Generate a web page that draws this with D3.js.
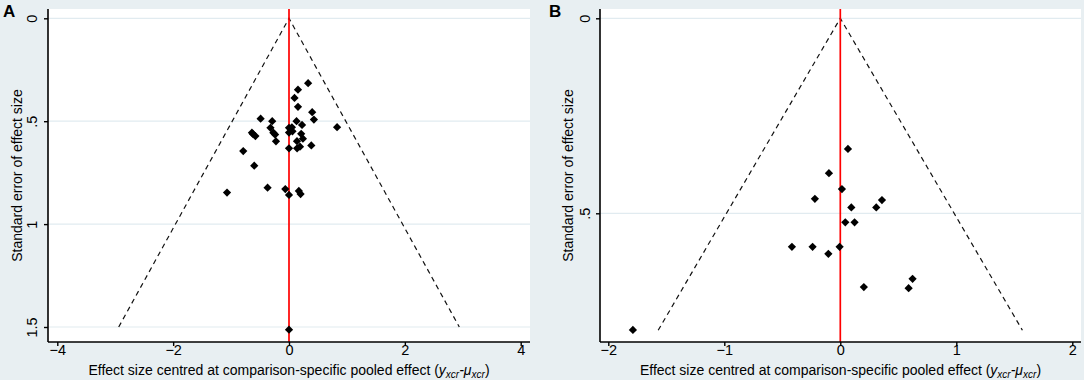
<!DOCTYPE html>
<html>
<head>
<meta charset="utf-8">
<script src="https://cdn.jsdelivr.net/npm/d3@7"></script>
<style>
  body { margin: 0; background: #e8eff2; }
  svg { display: block; }
</style>
</head>
<body>
<div id="chart"></div>
<script>
// ── Data ─────────────────────────────────────
// Panel A: centred effect size / standard error
const aEffect = [0.33, 0.155, 0.095, 0.155, 0.40, 0.43, 0.13, -0.49, -0.29, 0.83,
                 0.225, -0.32, 0.0, 0.05, 0.0, -0.64, -0.58, -0.27, -0.24, 0.21,
                 0.24, -0.225, 0.138, 0.19, 0.14, 0.0, 0.385, -0.79, -0.60, -1.07,
                 -0.37, -0.064, 0.0, 0.17, 0.20, 0.0, -0.62, 0.06];
const aSE     = [0.315, 0.347, 0.387, 0.430, 0.456, 0.492, 0.500, 0.488, 0.500, 0.529,
                 0.518, 0.532, 0.532, 0.530, 0.555, 0.556, 0.572, 0.556, 0.565, 0.561,
                 0.585, 0.598, 0.597, 0.624, 0.632, 0.632, 0.618, 0.645, 0.716, 0.847,
                 0.823, 0.830, 0.858, 0.839, 0.854, 1.513, 0.563, 0.549];
// Panel B
const bEffect = [-1.788, -0.417, -0.239, -0.103, -0.219, -0.006, 0.043, 0.123, 0.095,
                 0.014, 0.31, 0.359, 0.203, 0.589, 0.623, 0.066, -0.098];
const bSE     = [0.799, 0.586, 0.586, 0.604, 0.463, 0.586, 0.523, 0.523, 0.485,
                 0.438, 0.485, 0.466, 0.689, 0.692, 0.668, 0.335, 0.397];

// Pseudo 95% limits (apex and ends)
const aFunnel = [[-2.94, 1.5], [0, 0], [2.94, 1.5]];
const bFunnel = [[-1.57, 0.8], [0, 0], [1.57, 0.8]];

const aXTicks = [-4, -2, 0, 2, 4];
const aYTicks = [0, 0.5, 1, 1.5];
const bXTicks = [-2, -1, 0, 1, 2];
const bYTicks = [0, 0.5];

const FONT = "Arial, 'Liberation Sans', sans-serif";

const svg = d3.select("#chart").append("svg")
  .attr("width", 1084).attr("height", 380);

function fmtTick(d) {
  return String(d).replace(/^0\./, ".").replace(/^-0\./, "-.");
}

function drawPanel(cfg) {
  const x = d3.scaleLinear().domain(cfg.xDom).range(cfg.xRange);
  const y = d3.scaleLinear().domain(cfg.yDom).range(cfg.yRange);
  const p = cfg.plot; // plot region box
  const g = svg.append("g");

  // plot region
  g.append("rect").attr("x", p.l).attr("y", p.t)
    .attr("width", p.r - p.l).attr("height", p.b - p.t).attr("fill", "#fff");

  // grid
  g.selectAll(".grid").data(cfg.yTicks).join("line")
    .attr("x1", p.l).attr("x2", p.r)
    .attr("y1", d => y(d)).attr("y2", d => y(d))
    .attr("stroke", "#e1ebf0").attr("stroke-width", 1.2);

  // funnel
  g.append("path").datum(cfg.funnel)
    .attr("d", d3.line().x(d => x(d[0])).y(d => y(d[1])))
    .attr("fill", "none").attr("stroke", "#111")
    .attr("stroke-width", 1.2).attr("stroke-dasharray", "5,4");

  // red line at zero
  g.append("line").attr("x1", x(0)).attr("x2", x(0))
    .attr("y1", p.t).attr("y2", p.b)
    .attr("stroke", "#ff0000").attr("stroke-width", 1.7);

  // points
  const sym = d3.symbol(d3.symbolSquare, 34);
  g.selectAll(".pt").data(cfg.effect.map((e, i) => [e, cfg.se[i]])).join("path")
    .attr("d", sym)
    .attr("transform", d => `translate(${x(d[0])},${y(d[1])}) rotate(45)`)
    .attr("fill", "#000");

  // x axis
  const xAxis = g.append("g").attr("transform", `translate(0,${p.b})`)
    .call(d3.axisBottom(x).tickValues(cfg.xTicks).tickSize(4).tickSizeOuter(0)
      .tickFormat(d => d3.format("")(d)));
  xAxis.select(".domain").attr("d", `M${p.l},0H${p.r}`)
    .attr("stroke", "#000").attr("stroke-width", 1.6);
  xAxis.selectAll(".tick line").attr("stroke", "#000").attr("stroke-width", 1.4);
  xAxis.selectAll(".tick text").attr("font-family", FONT).attr("font-size", "14.5px")
    .attr("fill", "#000").attr("dy", "0.45em").attr("y", 6);

  // y axis
  const yAxis = g.append("g").attr("transform", `translate(${p.l},0)`)
    .call(d3.axisLeft(y).tickValues(cfg.yTicks).tickSize(4).tickSizeOuter(0)
      .tickFormat(fmtTick));
  yAxis.select(".domain").attr("d", `M0,${p.t}V${p.b}`)
    .attr("stroke", "#000").attr("stroke-width", 1.6);
  yAxis.selectAll(".tick line").attr("stroke", "#000").attr("stroke-width", 1.4);
  yAxis.selectAll(".tick text").attr("font-family", FONT).attr("font-size", "14.5px")
    .attr("fill", "#000")
    .attr("x", null).attr("dy", null)
    .attr("text-anchor", "middle")
    .attr("transform", `translate(${cfg.yTickX - p.l},0) rotate(-90)`);

  // x title
  const xt = g.append("text")
    .attr("x", (p.l + p.r) / 2).attr("y", 375)
    .attr("text-anchor", "middle").attr("font-family", FONT)
    .attr("font-size", "14px").attr("fill", "#000");
  xt.append("tspan").text("Effect size centred at comparison-specific pooled effect (");
  xt.append("tspan").attr("font-style", "italic").text("y");
  xt.append("tspan").attr("font-style", "italic").attr("font-size", "10px")
    .attr("baseline-shift", "-3").text("xcr");
  xt.append("tspan").attr("font-style", "italic").text("-μ");
  xt.append("tspan").attr("font-style", "italic").attr("font-size", "10px")
    .attr("baseline-shift", "-3").text("xcr");
  xt.append("tspan").text(")");

  // y title
  g.append("text")
    .attr("transform", `translate(${cfg.yTitleX},${(p.t + p.b) / 2}) rotate(-90)`)
    .attr("text-anchor", "middle").attr("font-family", FONT)
    .attr("font-size", "14px").attr("fill", "#000")
    .text("Standard error of effect size");

  // panel letter
  g.append("text").attr("x", cfg.labelX).attr("y", 17)
    .attr("font-family", FONT).attr("font-size", "17px")
    .attr("font-weight", "bold").attr("fill", "#000")
    .text(cfg.label);
}

drawPanel({
  label: "A", labelX: 3,
  effect: aEffect, se: aSE, funnel: aFunnel,
  xTicks: aXTicks, yTicks: aYTicks,
  xDom: [-4, 4], xRange: [57.3, 520.7],
  yDom: [0, 1.5], yRange: [18.3, 327],
  plot: { l: 48, r: 530, t: 9, b: 342 },
  yTickX: 37, yTitleX: 22
});

drawPanel({
  label: "B", labelX: 549,
  effect: bEffect, se: bSE, funnel: bFunnel,
  xTicks: bXTicks, yTicks: bYTicks,
  xDom: [-2, 2], xRange: [608.3, 1072.3],
  yDom: [0, 0.5], yRange: [18.3, 213.3],
  plot: { l: 600, r: 1081, t: 9, b: 342 },
  yTickX: 590, yTitleX: 573
});
</script>
</body>
</html>
